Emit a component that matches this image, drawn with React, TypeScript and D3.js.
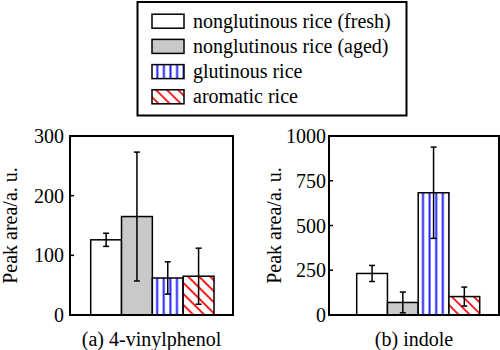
import { useEffect } from 'react';
import * as d3 from 'd3';

// Rice types (legend order)
const categories = [
  'nonglutinous rice (fresh)',
  'nonglutinous rice (aged)',
  'glutinous rice',
  'aromatic rice',
];

// (a) 4-vinylphenol
const vinylMeans = [126, 165, 62, 65];
const vinylErrors = [11, 108, 27, 47];
const vinylTicks = [0, 100, 200, 300];

// (b) indole
const indoleMeans = [232, 70, 683, 103];
const indoleErrors = [45, 58, 255, 53];
const indoleTicks = [0, 250, 500, 750, 1000];

const panelTitles = ['(a) 4-vinylphenol', '(b) indole'];
const yLabel = 'Peak area/a. u.';

const FONT = "'Liberation Serif', 'Times New Roman', Times, serif";
const textStyle = { fontFamily: FONT, fontSize: '20px' };

interface Panel {
  id: string;
  title: string;
  means: number[];
  errors: number[];
  ticks: number[];
  max: number;
  left: number;
  right: number;
  barStart: number;
  barEnd: number;
  labelX: number;
  tickGap: number;
}

const panels: Panel[] = [
  {
    id: 'a', title: panelTitles[0], means: vinylMeans, errors: vinylErrors,
    ticks: vinylTicks, max: 300,
    left: 70, right: 233, barStart: 90.7, barEnd: 214, labelX: 17, tickGap: 6,
  },
  {
    id: 'b', title: panelTitles[1], means: indoleMeans, errors: indoleErrors,
    ticks: indoleTicks, max: 1000,
    left: 329, right: 499, barStart: 356.7, barEnd: 479.7, labelX: 281, tickGap: 3,
  },
];

const top = 136;
const bottom = 315;

function fillFor(i: number, pid: string) {
  if (i === 0) return '#ffffff';
  if (i === 1) return '#c9c9c9';
  if (i === 2) return `url(#vstripe-${pid})`;
  return `url(#dstripe-${pid})`;
}

function ChartPanel({ p }: { p: Panel }) {
  const y = d3.scaleLinear().domain([0, p.max]).range([bottom, top]);
  const x = d3.scaleBand<string>().domain(categories).range([p.barStart, p.barEnd]).padding(0);
  const bw = x.bandwidth();
  const glutX = x(categories[2]) ?? 0;
  const aromX = x(categories[3]) ?? 0;

  return (
    <g>
      <defs>
        <pattern id={`vstripe-${p.id}`} patternUnits="userSpaceOnUse" x={glutX + 1.5} y={0} width={6.6} height={10}>
          <rect width={6.6} height={10} fill="#fff" />
          <line x1={3.3} y1={0} x2={3.3} y2={10} stroke="#1f1fff" strokeWidth={2} />
        </pattern>
        <pattern id={`dstripe-${p.id}`} patternUnits="userSpaceOnUse" x={aromX} y={0} width={7.8} height={10}
          patternTransform="rotate(-45)">
          <rect width={7.8} height={10} fill="#fff" />
          <line x1={3.9} y1={0} x2={3.9} y2={10} stroke="#ff1a1a" strokeWidth={2} />
        </pattern>
      </defs>

      {p.means.map((m, i) => (
        <rect key={i} x={x(categories[i])} y={y(m)} width={bw} height={bottom - y(m)}
          fill={fillFor(i, p.id)} stroke="#000" strokeWidth={1.5} />
      ))}

      {p.means.map((m, i) => {
        const cx = (x(categories[i]) ?? 0) + bw / 2;
        const y1 = y(m + p.errors[i]);
        const y2 = y(Math.max(0, m - p.errors[i]));
        return (
          <g key={i} stroke="#000" strokeWidth={1.5}>
            <line x1={cx} x2={cx} y1={y1} y2={y2} />
            <line x1={cx - 3} x2={cx + 3} y1={y1} y2={y1} />
            <line x1={cx - 3} x2={cx + 3} y1={y2} y2={y2} />
          </g>
        );
      })}

      <rect x={p.left} y={top} width={p.right - p.left} height={bottom - top}
        fill="none" stroke="#000" strokeWidth={2} />

      {p.ticks.map(t => (
        <g key={t}>
          <line x1={p.left} x2={p.left + 4} y1={y(t)} y2={y(t)} stroke="#000" strokeWidth={1.5} />
          <text x={p.left - p.tickGap} y={y(t)} dy="0.35em" textAnchor="end"
            style={textStyle} fill="#000">{t}</text>
        </g>
      ))}

      <text transform={`translate(${p.labelX},${(top + bottom) / 2}) rotate(-90)`} textAnchor="middle"
        style={textStyle} fill="#000">{yLabel}</text>

      <text x={(p.left + p.right) / 2} y={346} textAnchor="middle"
        style={textStyle} fill="#000">{p.title}</text>
    </g>
  );
}

function Legend() {
  const rowY = d3.scalePoint<string>().domain(categories).range([21.2, 96.8]);
  return (
    <g>
      <defs>
        <pattern id="vstripe-lg" patternUnits="userSpaceOnUse" x={154} y={0} width={6.6} height={10}>
          <rect width={6.6} height={10} fill="#fff" />
          <line x1={3.3} y1={0} x2={3.3} y2={10} stroke="#1f1fff" strokeWidth={2} />
        </pattern>
        <pattern id="dstripe-lg" patternUnits="userSpaceOnUse" x={152} y={0} width={7.8} height={10}
          patternTransform="rotate(-45)">
          <rect width={7.8} height={10} fill="#fff" />
          <line x1={3.9} y1={0} x2={3.9} y2={10} stroke="#ff1a1a" strokeWidth={2} />
        </pattern>
      </defs>
      <rect x={137.5} y={2} width={269} height={113.5} fill="#fff" stroke="#000" strokeWidth={2} />
      {categories.map((c, i) => {
        const cy = rowY(c) ?? 0;
        return (
          <g key={c}>
            <rect x={152} y={cy - 7} width={32} height={14} fill={fillFor(i, 'lg')}
              stroke="#000" strokeWidth={1.5} />
            <text x={193} y={cy + 6.5} style={textStyle} fill="#000">{c}</text>
          </g>
        );
      })}
    </g>
  );
}

export default function App() {
  useEffect(() => {
    document.body.style.margin = '0';
  }, []);

  return (
    <svg width={500} height={350} style={{ display: 'block', background: '#fff' }}>
      <rect width={500} height={350} fill="#fff" />
      <Legend />
      {panels.map(p => <ChartPanel key={p.id} p={p} />)}
    </svg>
  );
}
